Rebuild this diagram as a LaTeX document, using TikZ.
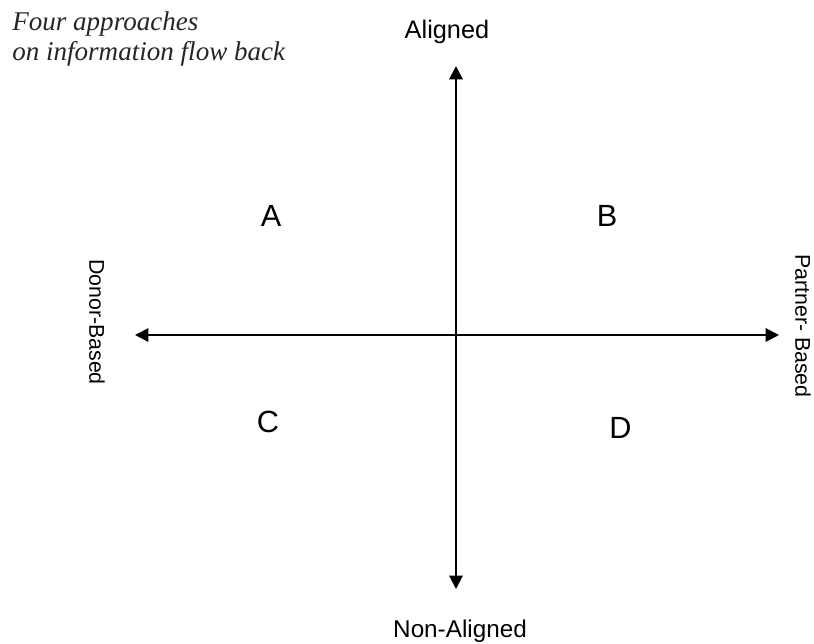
\documentclass[tikz,border=0pt]{standalone}
\usepackage{fontspec}
\setmainfont{Liberation Serif}
\setsansfont{Liberation Sans}
\usetikzlibrary{arrows.meta}
\begin{document}
\begin{tikzpicture}[x=0.75pt,y=-0.75pt,
  lab/.style={font=\sffamily\fontsize{16}{18}\selectfont, inner sep=0pt},
  quad/.style={font=\sffamily\fontsize{23}{26}\selectfont, inner sep=0pt},
  axis/.style={line width=1.5pt, -{Triangle[length=10pt,width=10pt]}},
  ttl/.style={font=\rmfamily\itshape\fontsize{20.3}{24}\selectfont, inner sep=0pt, anchor=base west, text=black!85}]
\useasboundingbox (0,0) rectangle (814,643);
\coordinate (c) at (456,335);
\coordinate (top) at (456,66);
\coordinate (bot) at (456,589);
\coordinate (lft) at (135,335);
\coordinate (rgt) at (779,335);
\draw[axis] (c) -- (top);
\draw[axis] (c) -- (bot);
\draw[axis] (c) -- (lft);
\draw[axis] (c) -- (rgt);
\node[ttl] (t1) at (12,30) {Four approaches};
\node[ttl] (t2) at (12,60) {on information flow back};
\node[lab, font=\sffamily\fontsize{19}{22}\selectfont, anchor=base] (al) at (447,38.5) {Aligned};
\node[lab, font=\sffamily\fontsize{18.2}{22}\selectfont, anchor=base] (na) at (460,637.5) {Non-Aligned};
\node[lab, rotate=-90] (db) at (97,322) {Donor-Based};
\node[lab, rotate=-90] (pb) at (803,326) {Partner- Based};
\node[quad] (A) at (271,215.5) {A};
\node[quad] (B) at (607,215.5) {B};
\node[quad] (C) at (268,422) {C};
\node[quad] (D) at (620.5,427.5) {D};
\end{tikzpicture}
\end{document}
